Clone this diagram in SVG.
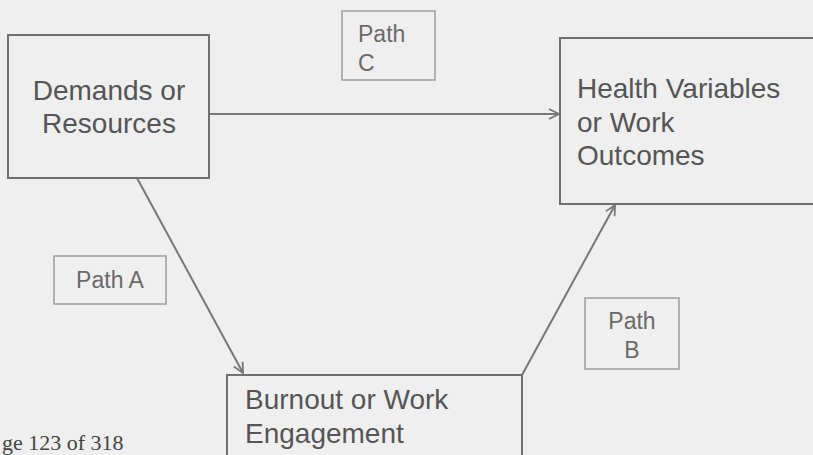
<svg xmlns="http://www.w3.org/2000/svg" width="813" height="455" viewBox="0 0 813 455">
  <style>
    .node { fill: none; stroke: #707070; stroke-width: 2; }
    .tag { fill: none; stroke: #a3a3a3; stroke-width: 1.6; }
    .big { font-family: "Liberation Sans", Arial, sans-serif; font-size: 28px; fill: #555555; }
    .small { font-family: "Liberation Sans", Arial, sans-serif; font-size: 23px; fill: #6a6a6a; }
    .edge { fill: none; stroke: #777777; stroke-width: 2; }
    .folio { font-family: "Liberation Serif", "Times New Roman", serif; font-size: 22px; fill: #444444; }
  </style>
  <defs>
    <marker id="open" viewBox="0 0 12 12" refX="11" refY="6" markerWidth="12" markerHeight="12" markerUnits="userSpaceOnUse" orient="auto">
      <path d="M1,1 L11,6 L1,11" fill="none" stroke="#777777" stroke-width="1.8"/>
    </marker>
  </defs>
  <rect width="813" height="455" fill="#efefef"/>

  <g id="connectors">
    <line class="edge" x1="209" y1="114" x2="559" y2="114" marker-end="url(#open)"/>
    <line class="edge" x1="137" y1="178" x2="243" y2="373" marker-end="url(#open)"/>
    <line class="edge" x1="522" y1="375" x2="615" y2="205" marker-end="url(#open)"/>
  </g>

  <g id="demands">
    <rect class="node" x="8" y="35" width="201" height="143"/>
    <text class="big" x="109" y="100" text-anchor="middle">Demands or</text>
    <text class="big" x="109" y="133" text-anchor="middle">Resources</text>
  </g>

  <g id="health">
    <rect class="node" x="560" y="38" width="270" height="166"/>
    <text class="big" x="577" y="98">Health Variables</text>
    <text class="big" x="577" y="132">or Work</text>
    <text class="big" x="577" y="165">Outcomes</text>
  </g>

  <g id="burnout">
    <rect class="node" x="227" y="375" width="295" height="100"/>
    <text class="big" x="245" y="409">Burnout or Work</text>
    <text class="big" x="245" y="443">Engagement</text>
  </g>

  <g id="path-c">
    <rect class="tag" x="342" y="11" width="93" height="69"/>
    <text class="small" x="358" y="42">Path</text>
    <text class="small" x="358" y="71">C</text>
  </g>

  <g id="path-a">
    <rect class="tag" x="54" y="256" width="112" height="48"/>
    <text class="small" x="110" y="288" text-anchor="middle">Path A</text>
  </g>

  <g id="path-b">
    <rect class="tag" x="585" y="298" width="94" height="71"/>
    <text class="small" x="632" y="329" text-anchor="middle">Path</text>
    <text class="small" x="632" y="358" text-anchor="middle">B</text>
  </g>

  <text class="folio" x="2" y="450">ge 123 of 318</text>
</svg>
